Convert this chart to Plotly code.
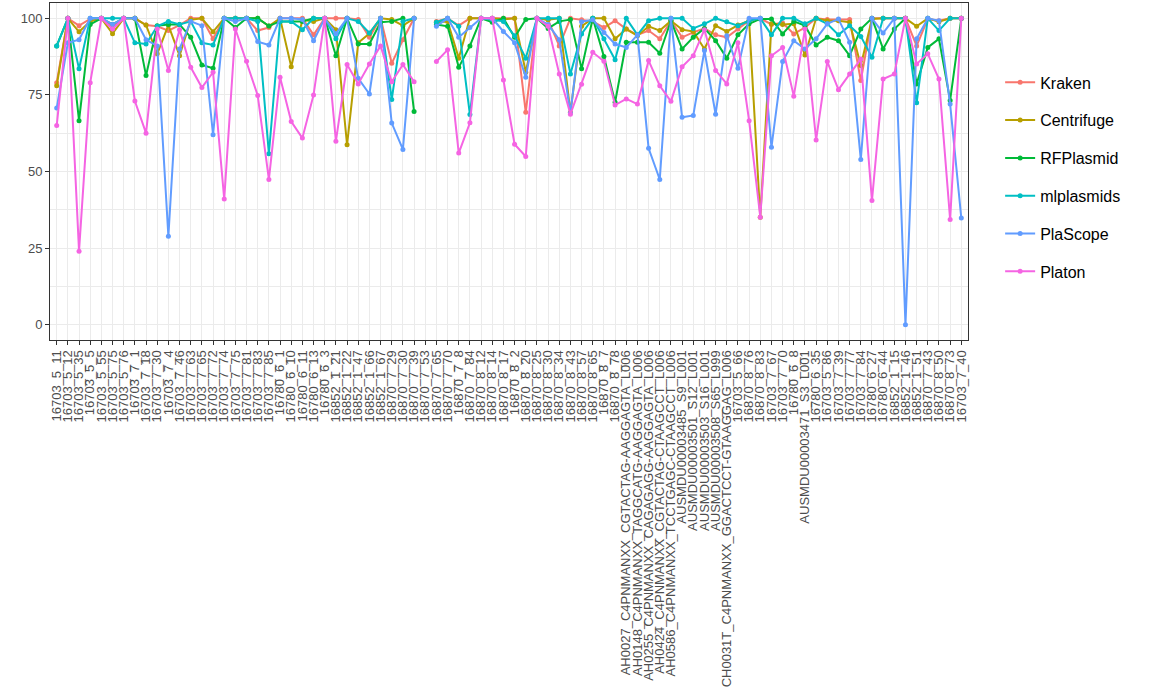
import plotly.graph_objects as go

samples = [
    "16703_5_11", "16703_5_12", "16703_5_35", "16703_5_5", "16703_5_55", "16703_5_75",
    "16703_5_76", "16703_7_1", "16703_7_18", "16703_7_30", "16703_7_4", "16703_7_46",
    "16703_7_63", "16703_7_65", "16703_7_72", "16703_7_74", "16703_7_75", "16703_7_81",
    "16703_7_83", "16703_7_85", "16780_6_1", "16780_6_10", "16780_6_11", "16780_6_13",
    "16780_6_3", "16852_1_21", "16852_1_22", "16852_1_47", "16852_1_66", "16852_1_67",
    "16870_7_29", "16870_7_30", "16870_7_39", "16870_7_53", "16870_7_65", "16870_7_70",
    "16870_7_8", "16870_7_84", "16870_8_12", "16870_8_14", "16870_8_17", "16870_8_2",
    "16870_8_20", "16870_8_25", "16870_8_30", "16870_8_34", "16870_8_43", "16870_8_57",
    "16870_8_65", "16870_8_7", "16870_8_78",
    "AH0027_C4PNMANXX_CGTACTAG-AAGGAGTA_L006",
    "AH0148_C4PNMANXX_TAGGCATG-AAGGAGTA_L006",
    "AH0255_C4PNMANXX_CAGAGAGG-AAGGAGTA_L006",
    "AH0424_C4PNMANXX_CGTACTAG-CTAAGCCT_L006",
    "AH0586_C4PNMANXX_TCCTGAGC-CTAAGCCT_L006",
    "AUSMDU00003485_S9_L001", "AUSMDU00003501_S12_L001", "AUSMDU00003503_S16_L001",
    "AUSMDU00003508_S65_L999",
    "CH0031T_C4PNMANXX_GGACTCCT-GTAAGGAG_L006",
    "16703_5_66", "16870_8_76", "16870_8_83", "16703_7_67", "16703_7_70", "16780_6_8",
    "AUSMDU00003471_S3_L001", "16780_6_35", "16703_5_86", "16703_7_39", "16703_7_77",
    "16703_7_84", "16780_6_27", "16780_6_44", "16852_1_15", "16852_1_46", "16852_1_51",
    "16870_7_43", "16870_8_50", "16870_8_73", "16703_7_40",
]

N = None
kraken = [79, 100, 97.6, 99.8, 100, 97, 100, 100, 97.8, 97.4, 96, 97.8, 100, 100, 93.3, 100,
          100, 100, 96, 97, 100, 100, 100, 94.6, 100, 100, 100, 99.6, 93.8, 100, 85.3, 93, 100,
          N, 99, 100, 97.6, 100, 100, 100, 100, 100, 69.3, 100, 99.5, 91, 100, 99.5, 99, 97,
          99.2, 96.5, 94.6, 96, 93.3, 99.2, 93.8, 95.4, 96.7, 94.6, 93.8, 96.5, 99.2, 100, 98,
          98.5, 94.9, 97, 100, 99.6, 99.6, 99.6, 79.7, 100, 100, 100, 100, 91, 99.8, 99.2, 100, 100]
centrifuge = [78, 100, 95.6, 99, 100, 95, 100, 100, 97.8, 88.4, 97.8, 87.8, 99.5, 100, 95.6, 100,
              100, 100, 100, 97.5, 100, 84.2, 99.5, 99, 100, 96.3, 58.7, 92, 95, 100, 99.6, 97.6, 100,
              N, 98.7, 99, 87, 100, 100, 100, 99.6, 100, 82.4, 100, 99.5, 100, 69.3, 97.4, 100, 100,
              93.3, 96.5, 94.3, 97.4, 96, 99.2, 96.3, 95.7, 90, 97.6, 95.7, 97.8, 99.2, 35.1, 98.2,
              98, 98.2, 88, 100, 99.2, 99.2, 98.7, 84.6, 99.8, 100, 100, 100, 97.4, 100, 98.9, 100, 100]
rfplasmid = [91, 100, 66.6, 98, 100, 98, 100, 100, 81.3, 97.6, 98, 98, 93.8, 84.8, 83.7, 100,
             97, 100, 100, 97.5, 99, 99, 99, 100, 100, 87.8, 100, 91.6, 91.6, 98.7, 99, 100, 69.6,
             N, 98, 97.4, 84, 91, 100, 98.7, 100, 93.8, 99.6, 100, 96.7, 99, 99.6, 83.5, 100, 87.5,
             72.6, 92.2, 92.2, 92.2, 88.6, 99.2, 90, 93.8, 96.7, 92.7, 87, 94.6, 98.2, 99.8, 99.8,
             94.9, 99, 97.6, 91.3, 93.8, 92.7, 87.8, 96.5, 100, 90, 96.5, 100, 78.6, 90.5, 93.3, 73.2, 100]
mlplasmids = [91, 100, 83.5, 100, 100, 100, 100, 92, 91.6, 97.4, 99, 98, 99, 92, 91.3, 100,
              100, 100, 99, 55.8, 99, 99, 96.3, 100, 100, 93.3, 100, 99, 95.2, 100, 73.5, 99, 100,
              N, 98.7, 100, 97.4, 68.6, 100, 99.6, 99, 94.3, 87, 100, 100, 100, 81.8, 94.9, 100, 93.3,
              86.5, 100, 94.6, 99.2, 100, 100, 100, 96.7, 98.2, 100, 98.9, 97.6, 99.2, 100, 94.6,
              100, 100, 98.2, 100, 98.2, 94.6, 97.6, 94.1, 87.3, 100, 100, 100, 72.4, 100, 96, 100, 100]
plascope = [70.7, 92, 93, 100, 100, 98, 100, 100, 93, 91, 28.9, 90, 99, 97.6, 62, 100,
            99, 100, 92.4, 91.3, 100, 100, 99.6, 92.7, 100, 95, 100, 80.4, 75.3, 100, 65.8, 57.2, 100,
            N, 97.4, 100, 93.8, 97, 100, 100, 95.7, 92, 80.8, 100, 98, 93, 69.1, 98.9, 99.5, 95.4,
            91.6, 90.5, 94.6, 57.6, 47.4, 100, 67.7, 68.3, 89.5, 68.7, 94.3, 83.7, 100, 100, 57.9,
            85.9, 92.7, 90, 93.3, 98.2, 99.8, 92.2, 53.9, 100, 95.2, 100, 0, 93.3, 100, 99.2, 72, 34.8]
platon = [65, 100, 24, 79, 100, 96.5, 100, 73, 62.5, 96.5, 83, 96.3, 84, 77.4, 82.4, 41,
          96.5, 86, 74.8, 47.4, 80.8, 66.3, 60.9, 75, 100, 59.9, 84.9, 78.6, 85.1, 91, 79.3, 84.9, 79.3,
          N, 85.9, 89.7, 56, 65.9, 100, 100, 79.9, 58.9, 54.9, 100, 97.4, 81.8, 68.7, 78.5, 88.9, 86,
          71.7, 73.7, 72, 86.2, 78, 72.9, 84.2, 87.8, 96.3, 83, 78.6, 92, 66.6, 35.1, 87.8,
          90.5, 74.6, 96.5, 60.3, 85.9, 76.7, 81.8, 86.7, 40.5, 80.2, 81.8, 100, 85.1, 88.4, 80.2, 34.3, 100]

series_names = ["Kraken", "Centrifuge", "RFPlasmid", "mlplasmids", "PlaScope", "Platon"]
series_values = [kraken, centrifuge, rfplasmid, mlplasmids, plascope, platon]
colors = ["#F8766D", "#B79F00", "#00BA38", "#00BFC4", "#619CFF", "#F564E3"]

fig = go.Figure()
for name, vals, col in zip(series_names, series_values, colors):
    fig.add_trace(go.Scatter(
        x=samples, y=vals, name=name, mode="lines+markers",
        line=dict(color=col, width=2), marker=dict(color=col, size=5),
        legendgroup=name, connectgaps=False,
    ))

grid = "#EBEBEB"
fig.update_layout(
    width=1157, height=693,
    margin=dict(l=50, r=189, t=3, b=353),
    paper_bgcolor="white", plot_bgcolor="white",
    font=dict(family="Liberation Sans, Arial, sans-serif", color="#4D4D4D"),
    legend=dict(
        x=1.035, xanchor="left", y=0.484, yanchor="middle",
        font=dict(size=16, color="black"), tracegroupgap=14,
        bgcolor="rgba(0,0,0,0)",
    ),
    showlegend=True,
)
fig.update_xaxes(
    type="category", categoryorder="array", categoryarray=samples,
    range=[-0.6, len(samples) - 0.4],
    tickmode="array", tickvals=samples, ticktext=samples,
    tickangle=-90, tickfont=dict(size=13, color="#4D4D4D"),
    showgrid=True, gridcolor=grid, gridwidth=1,
    ticks="outside", ticklen=4, tickcolor="#333333",
    showline=True, linecolor="#333333", linewidth=1, mirror=True,
    zeroline=False,
)
fig.update_yaxes(
    range=[-5, 105], tickvals=[0, 25, 50, 75, 100],
    tickfont=dict(size=13, color="#4D4D4D"),
    showgrid=True, gridcolor=grid, gridwidth=1.2,
    minor=dict(tickvals=[12.5, 37.5, 62.5, 87.5], showgrid=True, gridcolor=grid, gridwidth=0.6, ticks=""),
    ticks="outside", ticklen=4, tickcolor="#333333",
    showline=True, linecolor="#333333", linewidth=1, mirror=True,
    zeroline=False,
)

fig.write_html("out.html")
